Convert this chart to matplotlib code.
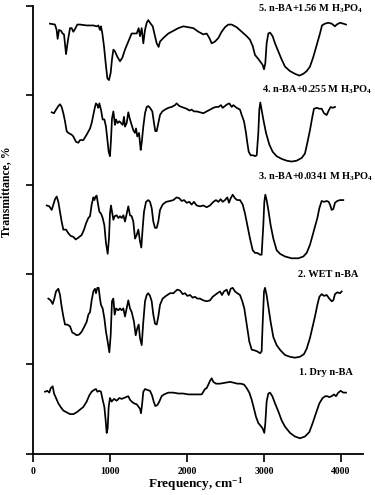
import matplotlib
matplotlib.use("Agg")
from matplotlib import pyplot as plt

plt.rcParams["font.family"] = ["Liberation Serif", "DejaVu Serif"]
plt.rcParams["font.weight"] = "bold"
plt.rcParams["mathtext.fontset"] = "custom"
plt.rcParams["mathtext.rm"] = "Liberation Serif:bold"
plt.rcParams["mathtext.it"] = "Liberation Serif:bold"
plt.rcParams["mathtext.bf"] = "Liberation Serif:bold"

# 1. Dry n-BA
freq1 = [156, 186, 212, 230, 256, 273, 299, 329, 359, 394,
         437, 481, 524, 567, 611, 654, 697, 732, 762, 792,
         818, 836, 862, 883, 905, 927, 944, 957, 970, 983,
         1000, 1022, 1052, 1087, 1122, 1152, 1182, 1208, 1238, 1260,
         1282, 1312, 1347, 1373, 1390, 1403, 1416, 1433, 1455, 1485,
         1520, 1546, 1568, 1589, 1615, 1641, 1671, 1702, 1758, 1823,
         1888, 1953, 2018, 2083, 2148, 2191, 2213, 2234, 2256, 2278,
         2299, 2321, 2343, 2377, 2429, 2494, 2559, 2611, 2654, 2698,
         2741, 2776, 2810, 2841, 2871, 2897, 2927, 2957, 2983, 3005,
         3018, 3035, 3057, 3079, 3109, 3144, 3187, 3230, 3274, 3339,
         3403, 3468, 3533, 3590, 3633, 3676, 3720, 3763, 3797, 3823,
         3849, 3880, 3910, 3936, 3966, 3997, 4031, 4066]
trans1 = [0.69, 0.70, 0.68, 0.73, 0.75, 0.67, 0.62, 0.56, 0.52, 0.48,
          0.46, 0.44, 0.44, 0.46, 0.49, 0.52, 0.58, 0.65, 0.69, 0.71,
          0.72, 0.69, 0.70, 0.69, 0.60, 0.52, 0.37, 0.23, 0.28, 0.52,
          0.62, 0.58, 0.61, 0.59, 0.62, 0.61, 0.62, 0.63, 0.64, 0.60,
          0.58, 0.56, 0.55, 0.52, 0.50, 0.45, 0.54, 0.69, 0.72, 0.71,
          0.70, 0.65, 0.58, 0.53, 0.54, 0.58, 0.64, 0.66, 0.68, 0.68,
          0.67, 0.67, 0.66, 0.66, 0.66, 0.66, 0.69, 0.72, 0.73, 0.77,
          0.81, 0.84, 0.80, 0.78, 0.78, 0.79, 0.80, 0.79, 0.78, 0.78,
          0.77, 0.73, 0.68, 0.60, 0.50, 0.41, 0.34, 0.31, 0.28, 0.23,
          0.34, 0.58, 0.67, 0.68, 0.64, 0.56, 0.47, 0.37, 0.30, 0.23,
          0.19, 0.17, 0.19, 0.24, 0.34, 0.45, 0.56, 0.62, 0.64, 0.64,
          0.63, 0.64, 0.66, 0.64, 0.68, 0.70, 0.68, 0.68]

# 2. WET n-BA
freq2 = [199, 230, 256, 277, 299, 329, 351, 372, 394, 416,
         446, 481, 511, 537, 567, 602, 632, 663, 697, 719,
         741, 762, 784, 805, 818, 836, 853, 870, 883, 905,
         927, 948, 970, 992, 1009, 1026, 1044, 1061, 1078, 1109,
         1130, 1152, 1174, 1195, 1217, 1238, 1260, 1282, 1312, 1334,
         1355, 1373, 1390, 1412, 1433, 1455, 1477, 1498, 1520, 1542,
         1563, 1585, 1607, 1628, 1650, 1684, 1728, 1780, 1823, 1875,
         1910, 1944, 1975, 2005, 2040, 2074, 2104, 2135, 2169, 2213,
         2256, 2299, 2334, 2364, 2395, 2429, 2455, 2481, 2516, 2542,
         2568, 2594, 2624, 2654, 2689, 2719, 2745, 2776, 2810, 2841,
         2884, 2914, 2949, 2970, 2983, 3001, 3014, 3035, 3057, 3087,
         3122, 3165, 3217, 3274, 3339, 3403, 3468, 3520, 3555, 3598,
         3633, 3663, 3694, 3720, 3750, 3780, 3815, 3849, 3880, 3901,
         3923, 3953, 3988, 4010]
trans2 = [1.73, 1.71, 1.67, 1.73, 1.81, 1.84, 1.77, 1.64, 1.53, 1.44,
          1.44, 1.42, 1.35, 1.34, 1.32, 1.33, 1.36, 1.41, 1.47, 1.55,
          1.58, 1.71, 1.81, 1.84, 1.79, 1.85, 1.85, 1.73, 1.66, 1.62,
          1.51, 1.36, 1.25, 1.13, 1.32, 1.70, 1.73, 1.55, 1.62, 1.60,
          1.62, 1.60, 1.62, 1.53, 1.62, 1.71, 1.62, 1.58, 1.47, 1.32,
          1.40, 1.44, 1.29, 1.21, 1.47, 1.70, 1.77, 1.79, 1.76, 1.70,
          1.55, 1.45, 1.44, 1.53, 1.66, 1.73, 1.76, 1.79, 1.79, 1.83,
          1.82, 1.78, 1.79, 1.76, 1.77, 1.74, 1.75, 1.73, 1.73, 1.71,
          1.70, 1.71, 1.75, 1.77, 1.79, 1.81, 1.77, 1.81, 1.83, 1.77,
          1.84, 1.85, 1.81, 1.79, 1.77, 1.70, 1.62, 1.44, 1.25, 1.16,
          1.15, 1.14, 1.12, 1.14, 1.44, 1.81, 1.85, 1.77, 1.64, 1.47,
          1.30, 1.21, 1.15, 1.10, 1.08, 1.07, 1.08, 1.11, 1.17, 1.29,
          1.42, 1.53, 1.66, 1.75, 1.78, 1.76, 1.77, 1.73, 1.70, 1.71,
          1.78, 1.80, 1.79, 1.81]

# 3. n-BA + 0.0341 M H3PO4
freq3 = [178, 212, 243, 264, 286, 308, 329, 351, 372, 394,
         429, 459, 489, 524, 554, 589, 632, 663, 689, 719,
         741, 762, 784, 797, 814, 827, 840, 862, 883, 905,
         927, 948, 970, 987, 1000, 1013, 1026, 1044, 1061, 1087,
         1109, 1130, 1152, 1174, 1195, 1217, 1238, 1260, 1282, 1303,
         1325, 1347, 1368, 1390, 1407, 1425, 1442, 1468, 1498, 1520,
         1542, 1563, 1585, 1607, 1628, 1650, 1684, 1728, 1780, 1823,
         1866, 1901, 1931, 1962, 1996, 2031, 2061, 2091, 2126, 2169,
         2213, 2256, 2299, 2343, 2377, 2408, 2438, 2464, 2494, 2524,
         2546, 2568, 2594, 2624, 2654, 2689, 2724, 2754, 2784, 2819,
         2854, 2884, 2914, 2949, 2970, 2992, 3005, 3018, 3035, 3061,
         3087, 3122, 3165, 3209, 3274, 3360, 3447, 3512, 3555, 3598,
         3633, 3663, 3694, 3720, 3750, 3780, 3815, 3841, 3858, 3880,
         3901, 3923, 3953, 3988, 4031]
trans3 = [2.77, 2.76, 2.72, 2.78, 2.84, 2.87, 2.81, 2.70, 2.59, 2.50,
          2.50, 2.46, 2.43, 2.42, 2.39, 2.41, 2.44, 2.50, 2.57, 2.63,
          2.65, 2.78, 2.86, 2.83, 2.87, 2.88, 2.81, 2.70, 2.68, 2.63,
          2.55, 2.35, 2.23, 2.40, 2.68, 2.77, 2.70, 2.61, 2.65, 2.66,
          2.63, 2.65, 2.63, 2.66, 2.59, 2.68, 2.76, 2.66, 2.65, 2.59,
          2.40, 2.44, 2.50, 2.37, 2.30, 2.52, 2.70, 2.81, 2.83, 2.81,
          2.74, 2.59, 2.52, 2.52, 2.59, 2.72, 2.78, 2.81, 2.82, 2.83,
          2.86, 2.85, 2.82, 2.83, 2.80, 2.81, 2.78, 2.81, 2.77, 2.76,
          2.77, 2.75, 2.77, 2.81, 2.83, 2.81, 2.84, 2.81, 2.83, 2.86,
          2.80, 2.85, 2.89, 2.85, 2.83, 2.83, 2.78, 2.68, 2.55, 2.40,
          2.27, 2.24, 2.24, 2.22, 2.22, 2.55, 2.81, 2.89, 2.83, 2.70,
          2.55, 2.40, 2.27, 2.23, 2.20, 2.18, 2.18, 2.20, 2.24, 2.33,
          2.44, 2.53, 2.63, 2.74, 2.82, 2.81, 2.82, 2.81, 2.78, 2.72,
          2.73, 2.80, 2.82, 2.83, 2.83]

# 4. n-BA + 0.255 M H3PO4
freq4 = [243, 273, 299, 329, 351, 372, 394, 416, 437, 459,
         502, 524, 559, 589, 611, 654, 697, 741, 762, 784,
         805, 818, 836, 849, 862, 883, 905, 927, 948, 966,
         983, 1000, 1013, 1026, 1044, 1065, 1078, 1100, 1122, 1143,
         1165, 1182, 1195, 1217, 1238, 1260, 1282, 1303, 1325, 1338,
         1355, 1377, 1399, 1412, 1433, 1455, 1477, 1498, 1520, 1550,
         1572, 1589, 1607, 1628, 1650, 1680, 1715, 1758, 1801, 1845,
         1866, 1901, 1931, 1962, 1996, 2031, 2061, 2091, 2126, 2169,
         2213, 2256, 2299, 2343, 2377, 2408, 2442, 2464, 2494, 2524,
         2550, 2581, 2602, 2646, 2689, 2711, 2741, 2767, 2784, 2802,
         2828, 2862, 2884, 2906, 2927, 2940, 2953, 2970, 2992, 3027,
         3070, 3113, 3165, 3230, 3295, 3360, 3425, 3490, 3533, 3564,
         3598, 3629, 3650, 3685, 3720, 3750, 3780, 3815, 3841, 3867,
         3893, 3923]
trans4 = [3.81, 3.80, 3.84, 3.88, 3.90, 3.87, 3.80, 3.71, 3.60, 3.58,
          3.56, 3.54, 3.48, 3.47, 3.50, 3.50, 3.56, 3.63, 3.69, 3.78,
          3.87, 3.91, 3.89, 3.86, 3.91, 3.84, 3.73, 3.73, 3.65, 3.50,
          3.37, 3.32, 3.50, 3.74, 3.82, 3.67, 3.73, 3.69, 3.71, 3.69,
          3.67, 3.76, 3.65, 3.69, 3.81, 3.73, 3.67, 3.61, 3.58, 3.63,
          3.54, 3.58, 3.39, 3.47, 3.65, 3.80, 3.87, 3.88, 3.86, 3.82,
          3.69, 3.60, 3.60, 3.69, 3.78, 3.82, 3.84, 3.86, 3.87, 3.89,
          3.91, 3.88, 3.87, 3.86, 3.85, 3.83, 3.84, 3.82, 3.82, 3.81,
          3.80, 3.82, 3.84, 3.86, 3.87, 3.87, 3.89, 3.86, 3.88, 3.90,
          3.91, 3.87, 3.89, 3.86, 3.84, 3.78, 3.71, 3.58, 3.47, 3.37,
          3.33, 3.33, 3.32, 3.33, 3.58, 3.84, 3.92, 3.84, 3.73, 3.58,
          3.45, 3.37, 3.32, 3.29, 3.27, 3.26, 3.27, 3.30, 3.35, 3.47,
          3.61, 3.76, 3.85, 3.86, 3.85, 3.85, 3.80, 3.78, 3.83, 3.87,
          3.86, 3.87]

# 5. n-BA + 1.56 M H3PO4
freq5 = [220, 285, 307, 320, 338, 364, 385, 403, 429, 455,
         481, 502, 524, 546, 576, 611, 697, 784, 827, 849,
         870, 883, 901, 922, 944, 966, 987, 1009, 1026, 1044,
         1065, 1096, 1130, 1161, 1195, 1238, 1282, 1316, 1347, 1373,
         1390, 1412, 1433, 1455, 1477, 1498, 1520, 1555, 1585, 1607,
         1632, 1650, 1693, 1758, 1823, 1888, 1953, 2018, 2083, 2148,
         2213, 2256, 2291, 2321, 2364, 2408, 2451, 2494, 2537, 2581,
         2646, 2711, 2776, 2819, 2854, 2884, 2914, 2949, 2983, 3001,
         3018, 3035, 3057, 3079, 3113, 3144, 3187, 3230, 3274, 3339,
         3403, 3460, 3512, 3555, 3598, 3642, 3685, 3728, 3754, 3793,
         3836, 3880, 3923, 3945, 3988, 4031, 4066]
trans5 = [4.80, 4.79, 4.73, 4.63, 4.73, 4.72, 4.69, 4.68, 4.46, 4.62,
          4.75, 4.75, 4.71, 4.74, 4.79, 4.79, 4.78, 4.78, 4.77, 4.78,
          4.73, 4.77, 4.69, 4.55, 4.36, 4.19, 4.17, 4.25, 4.40, 4.51,
          4.49, 4.43, 4.38, 4.42, 4.51, 4.60, 4.69, 4.69, 4.69, 4.75,
          4.66, 4.75, 4.58, 4.73, 4.81, 4.84, 4.81, 4.77, 4.66, 4.58,
          4.54, 4.60, 4.64, 4.69, 4.72, 4.75, 4.77, 4.76, 4.75, 4.71,
          4.68, 4.69, 4.64, 4.58, 4.60, 4.64, 4.71, 4.76, 4.79, 4.79,
          4.76, 4.71, 4.66, 4.62, 4.55, 4.45, 4.42, 4.38, 4.34, 4.29,
          4.36, 4.58, 4.69, 4.70, 4.66, 4.58, 4.49, 4.40, 4.32, 4.27,
          4.24, 4.22, 4.24, 4.27, 4.32, 4.43, 4.56, 4.69, 4.78, 4.80,
          4.81, 4.80, 4.77, 4.79, 4.81, 4.80, 4.79]

labels = ["1. Dry n-BA",
          "2. WET n-BA",
          r"3. n-BA+0.0341 M H$_3$PO$_4$",
          r"4. n-BA+0.255 M H$_3$PO$_4$",
          r"5. n-BA+1.56 M H$_3$PO$_4$"]

spectra = [(freq1, trans1), (freq2, trans2), (freq3, trans3),
           (freq4, trans4), (freq5, trans5)]

# where each label sits (right edge, vertical centre)
label_x = [4157, 4222, 4417, 4404, 4287]
label_y = [0.91, 2.00, 3.09, 4.06, 4.97]

fig = plt.figure(figsize=(3.75, 4.95), dpi=100)
ax = fig.add_axes([0.088, 0.0838, 0.8792, 0.9046])

for f, t in spectra:
    ax.plot(f, t, color="black", lw=1.25)

for i in range(len(labels)):
    ax.text(label_x[i], label_y[i], labels[i], ha="right", va="center",
            fontsize=7.5, fontweight="bold", clip_on=False)

ax.set_xlim(0, 4283)
ax.set_ylim(0, 5)
ax.spines["top"].set_visible(False)
ax.spines["right"].set_visible(False)
ax.spines["left"].set_linewidth(1.3)
ax.spines["bottom"].set_linewidth(1.3)

ax.set_xticks([0, 1000, 2000, 3000, 4000])
ax.set_yticks([0, 1, 2, 3, 4, 5])
ax.set_yticklabels([])
ax.tick_params(axis="x", direction="out", length=5.5, width=1.2, labelsize=7, pad=4)
ax.tick_params(axis="y", direction="out", length=5, width=1.2)

ax.set_xlabel("Frequency, cm$^{-1}$", fontsize=9.5, fontweight="bold")
ax.xaxis.set_label_coords(0.494, -0.049)
ax.set_ylabel("Transmittance, %", fontsize=8.5, fontweight="bold")
ax.yaxis.set_label_coords(-0.062, 0.584)

fig.savefig("out.png", dpi=100)
